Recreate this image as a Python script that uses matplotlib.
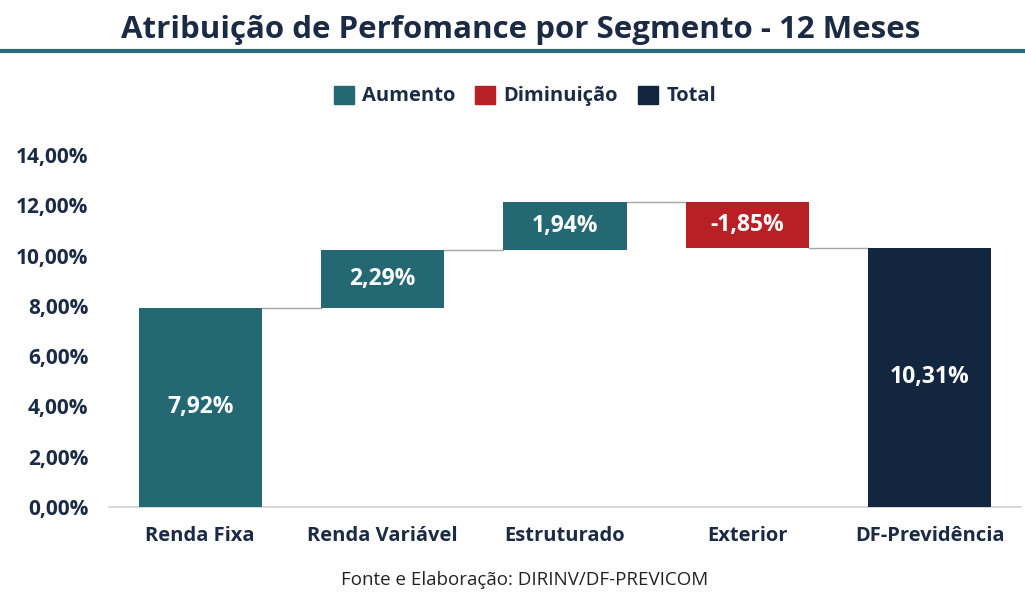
import matplotlib.pyplot as plt
import numpy as np
from matplotlib.patches import Patch

# dados
categorias = ['Renda Fixa', 'Renda Variável', 'Estruturado', 'Exterior', 'DF-Previdência']
valores = [7.92, 2.29, 1.94, -1.85, 10.31]
tipos = ['Aumento', 'Aumento', 'Aumento', 'Diminuição', 'Total']
rotulos = ['7,92%', '2,29%', '1,94%', '-1,85%', '10,31%']
yticks = [0, 2, 4, 6, 8, 10, 12, 14]

cores = {'Aumento': '#246873', 'Diminuição': '#b92025', 'Total': '#13263f'}
texto_cor = '#1b2b45'
plt.rcParams['font.family'] = ['Open Sans', 'DejaVu Sans']

fig = plt.figure(figsize=(10.25, 5.92), dpi=100)
ax = fig.add_axes([109/1025, 85/592, 912/1025, 352/592])

x = np.arange(len(categorias))
base = []
topo = []
acum = 0
for v, t in zip(valores, tipos):
    if t == 'Total':
        base.append(0)
        topo.append(v)
        acum = v
    else:
        base.append(min(acum, acum + v))
        acum = acum + v
        topo.append(acum)

alturas = [abs(v) for v in valores]
w = 0.675
ax.bar(x, alturas, bottom=base, width=w, color=[cores[t] for t in tipos], zorder=3)

# linhas de conexão
for i in range(len(x) - 1):
    ax.plot([x[i] + w/2, x[i+1] - w/2], [topo[i], topo[i]], color='#a6a6a6', lw=1, zorder=2)

for i in range(len(x)):
    ax.text(x[i], base[i] + alturas[i]/2, rotulos[i], ha='center', va='center',
            color='white', fontsize=16.5, fontweight='bold', zorder=4)

ax.set_xlim(-0.5, len(x) - 0.5)
ax.set_ylim(0, 14)
ax.set_yticks(yticks)
ax.set_yticklabels(['%d,00%%' % t for t in yticks], fontsize=15, fontweight='bold', color=texto_cor)
ax.set_xticks(x)
ax.set_xticklabels(categorias, fontsize=14.5, fontweight='bold', color=texto_cor)
ax.tick_params(axis='both', length=0)
ax.tick_params(axis='x', pad=14)
ax.tick_params(axis='y', pad=15)
for s in ['top', 'right', 'left']:
    ax.spines[s].set_visible(False)
ax.spines['bottom'].set_color('#d0d0d0')
ax.spines['bottom'].set_linewidth(1.2)

# título
fig.text(0.508, 1 - 30/592, 'Atribuição de Perfomance por Segmento - 12 Meses', ha='center', va='center',
         fontsize=22.5, fontweight='bold', color=texto_cor)
fig.add_artist(plt.Line2D([0, 1], [1 - 51/592, 1 - 51/592], color='#2a6b76', lw=3))

# legenda
handles = [Patch(color=cores[k]) for k in ['Aumento', 'Diminuição', 'Total']]
leg = fig.legend(handles, ['Aumento', 'Diminuição', 'Total'], loc='center', bbox_to_anchor=(0.512, 1 - 96/592),
                 ncol=3, frameon=False, fontsize=14.5, handlelength=1.0, handleheight=1.0,
                 handletextpad=0.4, columnspacing=1.0)
for t in leg.get_texts():
    t.set_color(texto_cor)
    t.set_fontweight('bold')

fig.text(0.512, 1 - 580/592, 'Fonte e Elaboração: DIRINV/DF-PREVICOM', ha='center', va='center',
         fontsize=13.5, color='#222222')

fig.savefig('out.png', dpi=100)
